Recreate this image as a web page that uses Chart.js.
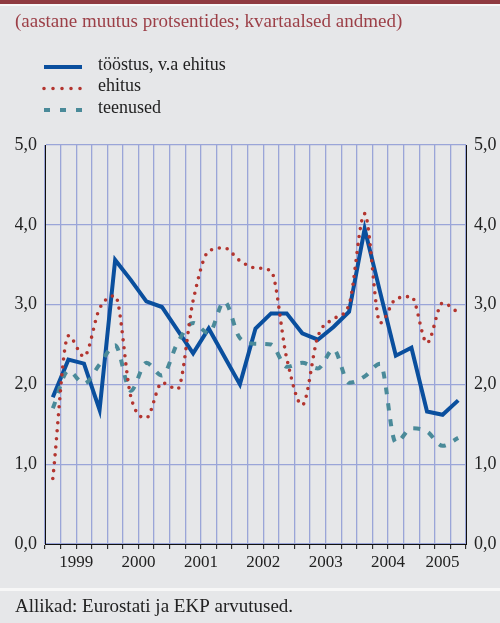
<!DOCTYPE html>
<html lang="et">
<head>
<meta charset="utf-8">
<title>Tööhõive muutus</title>
<script src="https://cdn.jsdelivr.net/npm/chart.js@4.4.1/dist/chart.umd.min.js"></script>
<style>
  body { margin: 0; background: #e6e7e9; }
  #wrap { position: relative; width: 500px; height: 623px; }
  .riba { position: absolute; left: 0; top: 0; width: 500px; height: 4px; background: #8f3a40; }
  .joon { position: absolute; left: 0; width: 500px; height: 2px; background: #f7f7f7; }
  canvas { position: absolute; left: 0; top: 0; }
</style>
</head>
<body>
<div id="wrap">
  <div class="riba"></div>
  <div class="joon" style="top:4px"></div>
  <div class="joon" style="top:588px;height:3px"></div>
  <canvas id="myChart" width="500" height="623"></canvas>
</div>
<script>
// kvartalid 1999 I ... 2005 III
const KVARTALID = [
  "1999 I", "1999 II", "1999 III", "1999 IV",
  "2000 I", "2000 II", "2000 III", "2000 IV",
  "2001 I", "2001 II", "2001 III", "2001 IV",
  "2002 I", "2002 II", "2002 III", "2002 IV",
  "2003 I", "2003 II", "2003 III", "2003 IV",
  "2004 I", "2004 II", "2004 III", "2004 IV",
  "2005 I", "2005 II", "2005 III"
];
const AASTAD = ["1999", "2000", "2001", "2002", "2003", "2004", "2005"];
const Y_SILDID = ["0,0", "1,0", "2,0", "3,0", "4,0", "5,0"];

// aastane muutus, %
const TOOSTUS = [1.84, 2.31, 2.26, 1.68, 3.56, 3.31, 3.04, 2.97, 2.68, 2.39, 2.70, 2.35, 2.00, 2.70,
  2.89, 2.89, 2.64, 2.56, 2.72, 2.91, 3.95, 3.15, 2.36, 2.46, 1.66, 1.62, 1.80];
const EHITUS = [0.82, 2.61, 2.35, 2.95, 3.11, 1.85, 1.58, 2.02, 1.94, 3.05, 3.67, 3.71, 3.55, 3.46,
  3.42, 2.33, 1.74, 2.60, 2.82, 3.00, 4.14, 2.77, 3.07, 3.10, 2.52, 3.02, 2.90];
const TEENUSED = [1.70, 2.17, 2.01, 2.25, 2.49, 1.92, 2.27, 2.11, 2.52, 2.77, 2.64, 3.04, 2.58, 2.51,
  2.50, 2.22, 2.27, 2.20, 2.44, 2.02, 2.10, 2.26, 1.27, 1.45, 1.41, 1.23, 1.33];

// aasta sildi koht = tema kvartalite keskmine indeks
const aastaKeskel = AASTAD.map(a => {
  const idx = KVARTALID.map((k, i) => k.startsWith(a) ? i : -1).filter(i => i >= 0);
  return idx.reduce((s, i) => s + i, 0) / idx.length;
});

const SERIF = "'Liberation Serif', 'Times New Roman', serif";
const GRID = "#9aa5d8";

// legend ridadena, nagu originaalis
const ridaLegend = {
  id: "ridaLegend",
  afterDraw(chart, args, o) {
    const ctx = chart.ctx;
    ctx.save();
    o.jarjekord.forEach((di, r) => {
      const ds = chart.data.datasets[di];
      const y = o.top + r * o.rida;
      ctx.beginPath();
      ctx.setLineDash(o.kriipsud[r]);
      ctx.lineCap = ds.borderCapStyle || "butt";
      ctx.lineWidth = ds.borderWidth;
      ctx.strokeStyle = ds.borderColor;
      ctx.moveTo(o.left, y);
      ctx.lineTo(o.left + o.pikkus, y);
      ctx.stroke();
      ctx.setLineDash([]);
      ctx.fillStyle = "#222";
      ctx.font = "18px " + SERIF;
      ctx.textBaseline = "middle";
      ctx.textAlign = "left";
      ctx.fillText(ds.label, o.left + o.pikkus + 16, y - 2);
    });
    ctx.restore();
  }
};

const ctx = document.getElementById("myChart").getContext("2d");
new Chart(ctx, {
  type: "line",
  data: {
    labels: KVARTALID,
    datasets: [
      {
        label: "ehitus",
        data: EHITUS,
        borderColor: "#b3352f",
        borderWidth: 3.6,
        borderDash: [0, 8],
        borderCapStyle: "round",
        cubicInterpolationMode: "monotone",
        pointRadius: 0,
        order: 0
      },
      {
        label: "teenused",
        data: TEENUSED,
        borderColor: "#4a8a99",
        borderWidth: 4,
        borderDash: [7, 9],
        cubicInterpolationMode: "monotone",
        pointRadius: 0,
        order: 1
      },
      {
        label: "tööstus, v.a ehitus",
        data: TOOSTUS,
        borderColor: "#0a4f9e",
        borderWidth: 4,
        borderJoinStyle: "miter",
        tension: 0,
        pointRadius: 0,
        order: 2
      }
    ]
  },
  options: {
    responsive: false,
    animation: false,
    events: [],
    layout: { padding: { left: 15, right: 0, top: 0, bottom: 0 } },
    plugins: {
      legend: { display: false },
      tooltip: { enabled: false },
      title: {
        display: true,
        text: "(aastane muutus protsentides; kvartaalsed andmed)",
        align: "start",
        color: "#9c3f47",
        font: { family: SERIF, size: 19, weight: "normal" },
        padding: { top: 11, bottom: 111.2 }
      },
      subtitle: {
        display: true,
        position: "bottom",
        text: "Allikad: Eurostati ja EKP arvutused.",
        align: "start",
        color: "#222",
        font: { family: SERIF, size: 19, weight: "normal" },
        padding: { top: 11.6, bottom: 4.6 }
      },
      ridaLegend: {
        left: 44, top: 67, rida: 21.5, pikkus: 38,
        jarjekord: [2, 0, 1],
        kriipsud: [[], [0, 9], [6, 10]]
      }
    },
    scales: {
      x: {
        type: "category",
        offset: true,
        weight: 0,
        grid: { offset: true, color: GRID, lineWidth: 1.3, drawTicks: true, tickLength: 5, tickColor: "#111", tickWidth: 1 },
        border: { color: "#111", width: 1 },
        ticks: { display: false },
        afterFit: s => { s.height = 6; }
      },
      x2: {
        type: "linear",
        position: "bottom",
        weight: 1,
        min: -0.5,
        max: KVARTALID.length - 0.5,
        bounds: "data",
        grid: { display: false, drawTicks: false },
        border: { display: false },
        ticks: {
          autoSkip: false,
          maxRotation: 0,
          padding: 2,
          color: "#222",
          font: { family: SERIF, size: 17 },
          callback: (v, i) => AASTAD[i]
        },
        afterBuildTicks: s => { s.ticks = aastaKeskel.map(v => ({ value: v })); },
        afterFit: s => { s.height = 34; }
      },
      y: {
        position: "left",
        min: 0,
        max: 5,
        grid: { color: GRID, lineWidth: 1.3, drawTicks: false },
        border: { color: "#111", width: 1 },
        ticks: {
          stepSize: 1,
          padding: 8,
          color: "#222",
          font: { family: SERIF, size: 18 },
          callback: v => Y_SILDID[v]
        },
        afterFit: s => { s.width = 30; }
      },
      y2: {
        position: "right",
        min: 0,
        max: 5,
        grid: { display: false, drawTicks: false },
        border: { color: "#111", width: 1 },
        ticks: {
          stepSize: 1,
          padding: 8,
          color: "#222",
          font: { family: SERIF, size: 18 },
          callback: v => Y_SILDID[v]
        },
        afterFit: s => { s.width = 34; }
      }
    }
  },
  plugins: [ridaLegend]
});
</script>
</body>
</html>
